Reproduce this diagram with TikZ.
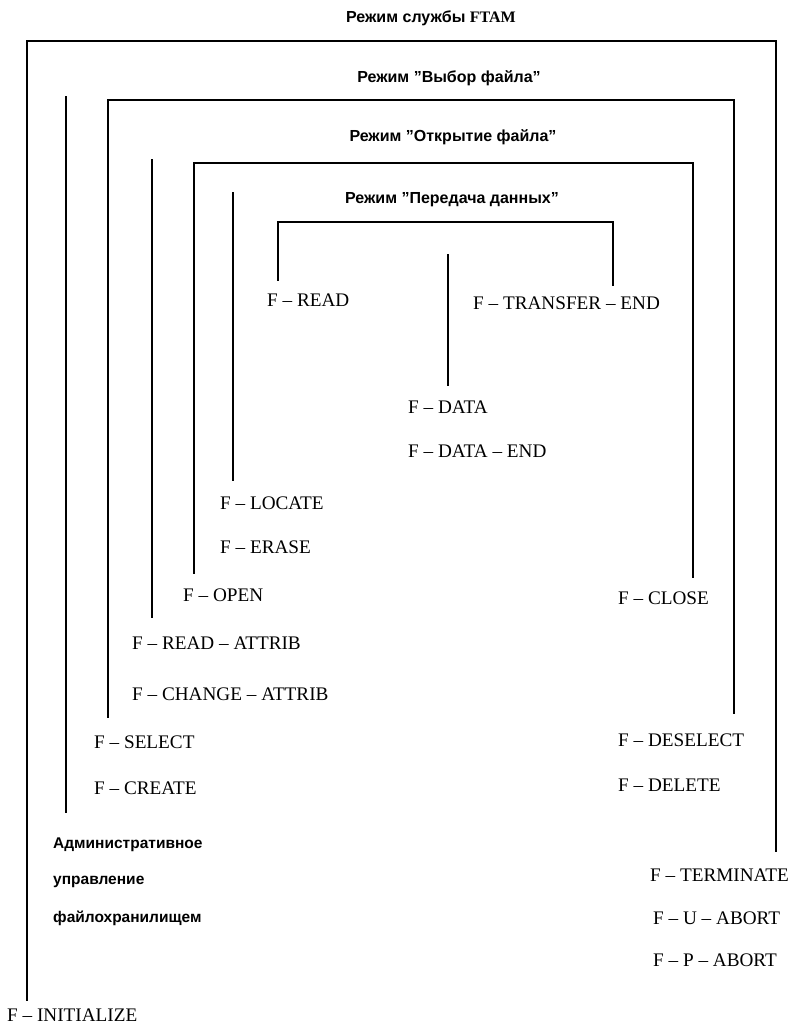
\documentclass[tikz,border=0pt]{standalone}
\usepackage{fontspec}
\setmainfont{Liberation Serif}
\newfontfamily\modefont[Ligatures=TeX]{Liberation Sans}
\usetikzlibrary{positioning}

\tikzset{
  rim/.style={line width=2pt, line cap=rect},
  flabel/.style={anchor=west, inner sep=0pt, font=\fontsize{19.2}{21}\selectfont},
  modelabel/.style={inner sep=0pt, font=\modefont\bfseries\fontsize{16}{18}\selectfont},
  adminlabel/.style={anchor=west, inner sep=0pt, font=\modefont\bfseries\fontsize{15.5}{17}\selectfont},
}

\begin{document}
\begin{tikzpicture}[x=1pt, y=-1pt, node distance=42pt]
  \useasboundingbox (0,0) rectangle (789,1031);

  % mode titles
  \node[modelabel] (t_ftam) at (431,18) {Режим службы {\rmfamily\bfseries FTAM}};
  \node[modelabel] (t_select) at (449,78) {Режим ''Выбор файла''};
  \node[modelabel] (t_open) at (453,137) {Режим ''Открытие файла''};
  \node[modelabel] (t_data) at (452,200) {Режим ''Передача данных''};

  % transfer mode
  \node[flabel] (read) at (267,300) {F -- READ};
  \node[flabel] (tend) at (473,303) {F -- TRANSFER -- END};
  \node[flabel] (data) at (408,407) {F -- DATA};
  \node[flabel, below=44pt of data.west, anchor=west] (dend) {F -- DATA -- END};

  % open mode
  \node[flabel] (locate) at (220,503) {F -- LOCATE};
  \node[flabel, below=44pt of locate.west, anchor=west] (erase) {F -- ERASE};
  \node[flabel] (open) at (183,595) {F -- OPEN};
  \node[flabel] (close) at (618,598) {F -- CLOSE};

  % select mode
  \node[flabel] (rattr) at (132,643) {F -- READ -- ATTRIB};
  \node[flabel, below=51pt of rattr.west, anchor=west] (cattr) {F -- CHANGE -- ATTRIB};
  \node[flabel] (select) at (94,742) {F -- SELECT};
  \node[flabel, below=46pt of select.west, anchor=west] (create) {F -- CREATE};
  \node[flabel] (deselect) at (618,740) {F -- DESELECT};
  \node[flabel, below=45pt of deselect.west, anchor=west] (delete) {F -- DELETE};

  % ftam mode
  \node[adminlabel] (adm1) at (53,845) {Административное};
  \node[adminlabel, below=37pt of adm1.west, anchor=west] (adm2) {управление};
  \node[adminlabel, below=36pt of adm2.west, anchor=west] (adm3) {файлохранилищем};
  \node[flabel] (term) at (650,875) {F -- TERMINATE};
  \node[flabel, below=43pt of term.west, anchor=west, xshift=3pt] (uabort) {F -- U -- ABORT};
  \node[flabel, below=42pt of uabort.west, anchor=west] (pabort) {F -- P -- ABORT};
  \node[flabel] (init) at (7,1015) {F -- INITIALIZE};

  % brackets
  \coordinate (ftam_l) at (27,1000);
  \coordinate (ftam_r) at (776,851);
  \coordinate (ftam_t) at (776,41);
  \coordinate (sel_a) at (66,97);
  \coordinate (sel_b) at (66,812);
  \coordinate (sel_l) at (108,717);
  \coordinate (sel_r) at (734,713);
  \coordinate (sel_t) at (734,100);
  \coordinate (open_a) at (152,160);
  \coordinate (open_b) at (152,617);
  \coordinate (open_l) at (194,573);
  \coordinate (open_r) at (693,577);
  \coordinate (open_t) at (693,163);
  \coordinate (data_a) at (233,193);
  \coordinate (data_b) at (233,480);
  \coordinate (data_l) at (278,280);
  \coordinate (data_r) at (613,285);
  \coordinate (data_t) at (613,222);
  \coordinate (mid_a) at (448,255);
  \coordinate (mid_b) at (448,385);

  \draw[rim] (ftam_l) |- (ftam_t) -- (ftam_r);
  \draw[rim] (sel_a) -- (sel_b);
  \draw[rim] (sel_l) |- (sel_t) -- (sel_r);
  \draw[rim] (open_a) -- (open_b);
  \draw[rim] (open_l) |- (open_t) -- (open_r);
  \draw[rim] (data_a) -- (data_b);
  \draw[rim] (data_l) |- (data_t) -- (data_r);
  \draw[rim] (mid_a) -- (mid_b);
\end{tikzpicture}
\end{document}
